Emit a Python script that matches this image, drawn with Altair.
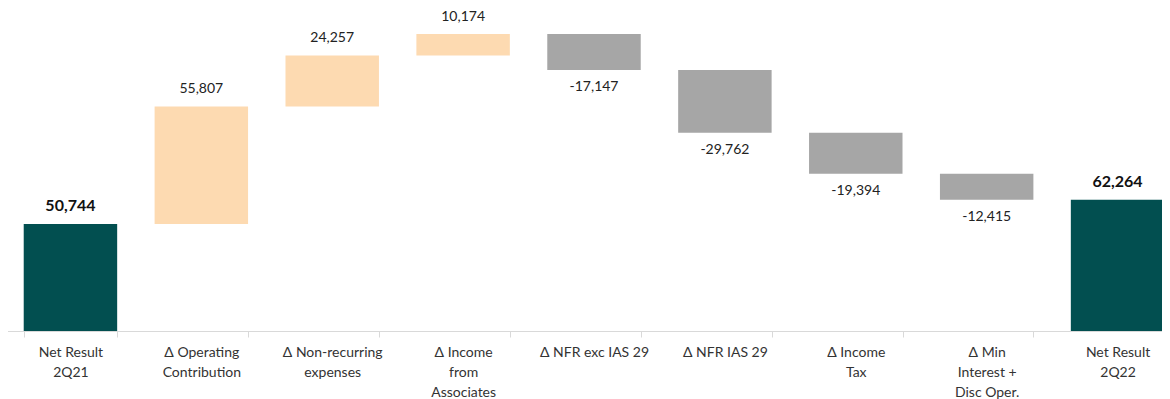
import altair as alt
import pandas as pd

categories = [
    "Net Result|2Q21",
    "Δ Operating|Contribution",
    "Δ Non-recurring|expenses",
    "Δ Income|from|Associates",
    "Δ NFR exc IAS 29",
    "Δ NFR IAS 29",
    "Δ Income|Tax",
    "Δ Min|Interest +|Disc Oper.",
    "Net Result|2Q22",
]
values = [50744, 55807, 24257, 10174, -17147, -29762, -19394, -12415, 62264]
kinds = ["total", "delta", "delta", "delta", "delta", "delta", "delta", "delta", "total"]

rows = []
running = 0
for cat, val, kind in zip(categories, values, kinds):
    if kind == "total":
        start, end = 0, val
        running = val
        k = "total"
    else:
        start, end = running, running + val
        running = end
        k = "pos" if val >= 0 else "neg"
    rows.append({
        "cat": cat,
        "start": start,
        "end": end,
        "top": max(start, end),
        "bottom": min(start, end),
        "kind": k,
        "label": f"{val:,}",
    })
df = pd.DataFrame(rows)

xenc = alt.X(
    "cat:N",
    sort=categories,
    scale=alt.Scale(range=[-8, 1170], paddingInner=0.286, paddingOuter=0.143),
    axis=alt.Axis(
        title=None,
        labelAngle=0,
        labelExpr="split(datum.label, '|')",
        labelFont="Lato",
        labelFontSize=14,
        labelColor="#333333",
        labelLineHeight=20,
        labelPadding=8,
        labelBaseline="top",
        labelLimit=300,
        domainColor="#d9d9d9",
        tickColor="#d9d9d9",
        tickSize=6,
        tickBand="extent",
        grid=False,
    ),
)
yscale = alt.Scale(domain=[0, 153300], nice=False, zero=True)

base = alt.Chart(df)

bars = base.mark_bar(cornerRadius=0).encode(
    x=xenc,
    y=alt.Y("start:Q", scale=yscale, axis=None),
    y2="end:Q",
    color=alt.Color(
        "kind:N",
        scale=alt.Scale(domain=["total", "pos", "neg"], range=["#024f50", "#fddab1", "#a6a6a6"]),
        legend=None,
    ),
)

total_text = base.transform_filter(alt.datum.kind == "total").mark_text(
    font="Lato", fontSize=16, fontWeight="bold", color="#111111", dy=-18, baseline="middle"
).encode(x=alt.X("cat:N", sort=categories), y=alt.Y("top:Q", scale=yscale), text="label:N")

pos_text = base.transform_filter(alt.datum.kind == "pos").mark_text(
    font="Lato", fontSize=14, color="#222222", dy=-17, baseline="middle"
).encode(x=alt.X("cat:N", sort=categories), y=alt.Y("top:Q", scale=yscale), text="label:N")

neg_text = base.transform_filter(alt.datum.kind == "neg").mark_text(
    font="Lato", fontSize=14, color="#222222", dy=17, baseline="middle"
).encode(x=alt.X("cat:N", sort=categories), y=alt.Y("bottom:Q", scale=yscale), text="label:N")

chart = (
    alt.layer(bars, total_text, pos_text, neg_text)
    .properties(
        width=1149,
        height=323,
        autosize=alt.AutoSizeParams(type="none"),
        padding={"left": 5, "top": 0, "right": 0, "bottom": 68},
    )
    .configure_view(stroke=None)
)

chart.save("out.html", embed_options={"renderer": "svg", "actions": False})
